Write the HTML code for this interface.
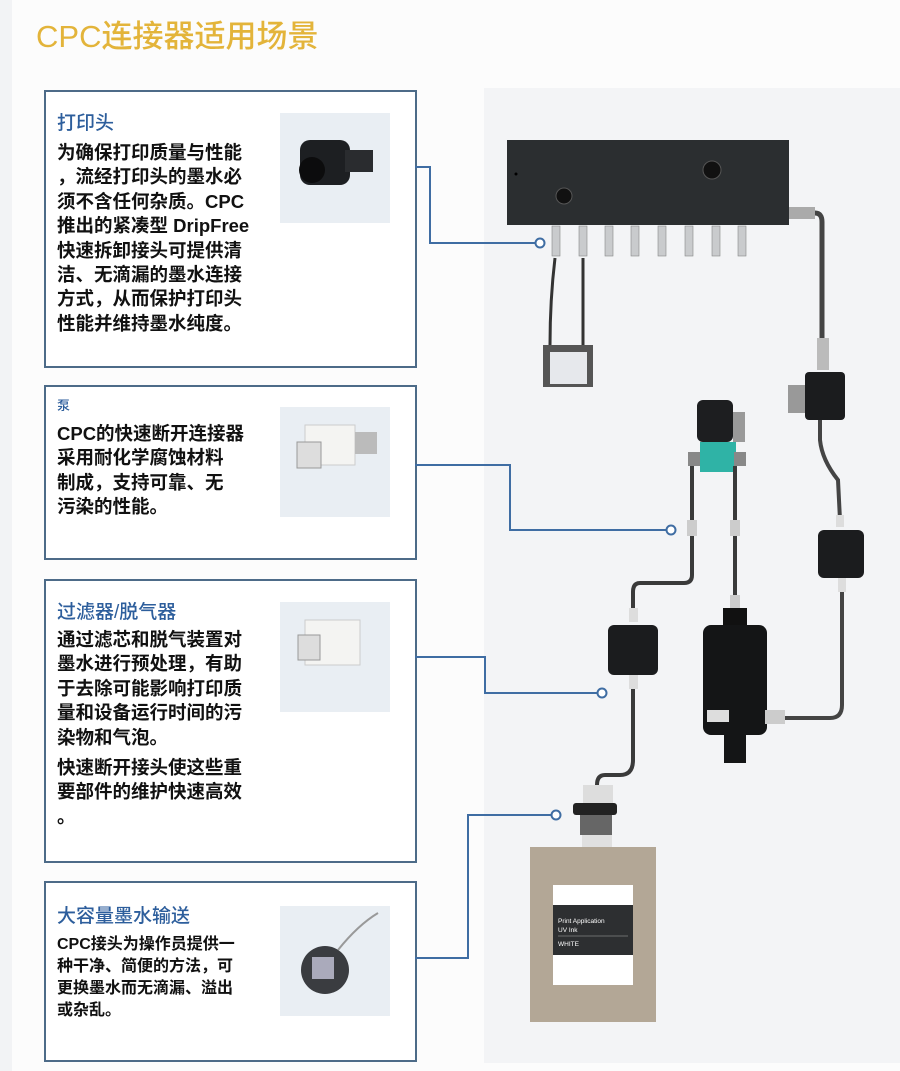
<!DOCTYPE html>
<html><head><meta charset="utf-8">
<style>
html,body{margin:0;padding:0;}
body{width:900px;height:1071px;position:relative;background:#fcfcfc;overflow:hidden;font-family:"Liberation Sans","Noto Sans CJK SC",sans-serif;}
.edge{position:absolute;left:0;top:0;width:12px;height:1071px;background:#f2f3f5;}
.title{position:absolute;left:36px;top:11px;font-size:31px;color:#e3b43a;font-weight:500;}
.panel{position:absolute;left:484px;top:88px;width:416px;height:975px;background:#f3f4f6;}
.box{position:absolute;left:44px;width:369px;border:2px solid #4d6b88;background:#fff;}
.h{position:absolute;left:11px;color:#2d5e9c;font-size:19px;font-weight:500;}
.t{position:absolute;left:11px;color:#111;font-size:18.5px;line-height:24.4px;font-weight:bold;white-space:nowrap;}
.th{position:absolute;left:234px;width:110px;height:110px;background:#e9eef3;}
svg{position:absolute;left:0;top:0;}
</style></head><body>
<div class="edge"></div>
<div class="title">CPC连接器适用场景</div>
<div class="panel"></div>

<div class="box" style="top:90px;height:274px;">
  <div class="h" style="top:16px;">打印头</div>
  <div class="t" style="top:49px;">为确保打印质量与性能<br>，流经打印头的墨水必<br>须不含任何杂质。CPC<br>推出的紧凑型 DripFree<br>快速拆卸接头可提供清<br>洁、无滴漏的墨水连接<br>方式，从而保护打印头<br>性能并维持墨水纯度。</div>
  <div class="th" style="top:21px;"></div>
</div>
<div class="box" style="top:385px;height:171px;">
  <div class="h" style="top:8px;font-size:13px;">泵</div>
  <div class="t" style="top:35px;">CPC的快速断开连接器<br>采用耐化学腐蚀材料<br>制成，支持可靠、无<br>污染的性能。</div>
  <div class="th" style="top:20px;"></div>
</div>
<div class="box" style="top:579px;height:280px;">
  <div class="h" style="top:16px;">过滤器/脱气器</div>
  <div class="t" style="top:47px;">通过滤芯和脱气装置对<br>墨水进行预处理，有助<br>于去除可能影响打印质<br>量和设备运行时间的污<br>染物和气泡。</div>
  <div class="t" style="top:175px;">快速断开接头使这些重<br>要部件的维护快速高效<br>。</div>
  <div class="th" style="top:21px;"></div>
</div>
<div class="box" style="top:881px;height:177px;">
  <div class="h" style="top:18px;">大容量墨水输送</div>
  <div class="t" style="top:51px;font-size:16px;line-height:22px;">CPC接头为操作员提供一<br>种干净、简便的方法，可<br>更换墨水而无滴漏、溢出<br>或杂乱。</div>
  <div class="th" style="top:23px;"></div>
</div>

<svg width="900" height="1071" viewBox="0 0 900 1071">
  <g>
    <rect x="300" y="140" width="50" height="45" rx="10" fill="#1d1f22"/>
    <rect x="345" y="150" width="28" height="22" fill="#2a2c2f"/>
    <circle cx="312" cy="170" r="13" fill="#0c0c0d"/>
    <path d="M305 425 h50 v40 h-50 z" fill="#f4f4f2" stroke="#ccc"/>
    <rect x="355" y="432" width="22" height="22" fill="#bbb"/>
    <rect x="297" y="442" width="24" height="26" fill="#ddd" stroke="#999"/>
    <path d="M305 620 h55 v45 h-55 z" fill="#f4f4f2" stroke="#ccc"/>
    <rect x="298" y="635" width="22" height="25" fill="#ddd" stroke="#999"/>
    <circle cx="325" cy="970" r="24" fill="#3a3c40"/>
    <rect x="312" y="957" width="22" height="22" fill="#aab"/>
    <path d="M338 950 q20 -25 40 -37" stroke="#999" fill="none" stroke-width="2"/>
  </g>
  <g stroke="#3f6da3" stroke-width="2" fill="none">
    <polyline points="415,167 430,167 430,243 535,243"/>
    <circle cx="540" cy="243" r="4.5" fill="#fff"/>
    <polyline points="415,465 510,465 510,530 666,530"/>
    <circle cx="671" cy="530" r="4.5" fill="#fff"/>
    <polyline points="415,657 485,657 485,693 597,693"/>
    <circle cx="602" cy="693" r="4.5" fill="#fff"/>
    <polyline points="415,958 468,958 468,815 551,815"/>
    <circle cx="556" cy="815" r="4.5" fill="#fff"/>
  </g>
  <rect x="507" y="140" width="282" height="85" fill="#2b2e30"/>
  <circle cx="564" cy="196" r="8" fill="#111" stroke="#555"/>
  <circle cx="712" cy="170" r="9" fill="#111" stroke="#555"/>
  <circle cx="516" cy="174" r="1.5" fill="#000"/>
  <g fill="#c9cbcd" stroke="#888" stroke-width="0.6">
    <rect x="552" y="226" width="8" height="30"/><rect x="579" y="226" width="8" height="30"/>
    <rect x="605" y="226" width="8" height="30"/><rect x="631" y="226" width="8" height="30"/>
    <rect x="658" y="226" width="8" height="30"/><rect x="685" y="226" width="8" height="30"/>
    <rect x="712" y="226" width="8" height="30"/><rect x="738" y="226" width="8" height="30"/>
  </g>
  <g stroke="#333" stroke-width="3" fill="none">
    <path d="M555 258 Q550 300 550 345"/>
    <path d="M583 258 L583 345"/>
  </g>
  <rect x="543" y="345" width="50" height="42" fill="#555"/>
  <rect x="550" y="352" width="37" height="32" fill="#e6e8ec"/>
  <rect x="789" y="207" width="26" height="12" fill="#aaa"/>
  <path d="M815 213 Q822 213 822 222 L822 340" stroke="#444" stroke-width="5" fill="none"/>
  <rect x="817" y="338" width="12" height="32" fill="#bbb"/>
  <rect x="788" y="385" width="20" height="28" fill="#999"/>
  <rect x="805" y="372" width="40" height="48" rx="4" fill="#1b1c1e"/>
  <path d="M820 420 L820 440 Q822 460 838 480 L840 520" stroke="#444" stroke-width="4" fill="none"/>
  <rect x="836" y="515" width="8" height="12" fill="#ddd"/>
  <rect x="818" y="530" width="46" height="48" rx="6" fill="#1b1c1e"/>
  <rect x="838" y="578" width="8" height="14" fill="#ddd"/>
  <path d="M842 592 L842 705 Q842 718 830 718 L780 718" stroke="#444" stroke-width="4" fill="none"/>
  <rect x="697" y="400" width="36" height="42" rx="6" fill="#1d1e20"/>
  <rect x="733" y="412" width="12" height="30" fill="#999"/>
  <rect x="700" y="442" width="36" height="30" fill="#2fb3a6"/>
  <rect x="688" y="452" width="12" height="14" fill="#888"/>
  <rect x="734" y="452" width="12" height="14" fill="#888"/>
  <g stroke="#3a3a3a" stroke-width="4" fill="none">
    <path d="M692 466 L692 575 Q692 583 684 583 L640 583 Q633 583 633 592 L633 620"/>
    <path d="M735 466 L735 600"/>
    <path d="M633 680 L633 760 Q633 775 620 775 L605 775 Q597 775 597 785"/>
  </g>
  <rect x="687" y="520" width="10" height="16" fill="#ccc"/>
  <rect x="730" y="520" width="10" height="16" fill="#ccc"/>
  <rect x="629" y="608" width="9" height="14" fill="#ddd"/>
  <rect x="608" y="625" width="50" height="50" rx="6" fill="#1b1c1e"/>
  <rect x="629" y="675" width="9" height="14" fill="#ddd"/>
  <rect x="730" y="595" width="10" height="14" fill="#ccc"/>
  <rect x="723" y="608" width="24" height="20" fill="#111"/>
  <rect x="703" y="625" width="64" height="110" rx="8" fill="#141516"/>
  <rect x="707" y="710" width="22" height="12" fill="#ddd"/>
  <rect x="765" y="710" width="20" height="14" fill="#ccc"/>
  <rect x="724" y="735" width="22" height="28" fill="#141516"/>
  <rect x="583" y="785" width="30" height="18" fill="#ddd"/>
  <rect x="573" y="803" width="44" height="12" rx="3" fill="#222"/>
  <rect x="580" y="815" width="32" height="20" fill="#666"/>
  <rect x="582" y="835" width="30" height="12" fill="#e0e0e0"/>
  <rect x="530" y="847" width="126" height="175" fill="#b3a796"/>
  <rect x="553" y="885" width="80" height="100" fill="#fff"/>
  <rect x="553" y="905" width="80" height="50" fill="#2d2f31"/>
  <text x="558" y="923" font-size="6.5" fill="#fff" font-family="Liberation Sans">Print Application</text>
  <text x="558" y="932" font-size="6.5" fill="#fff" font-family="Liberation Sans">UV Ink</text>
  <line x1="558" y1="936" x2="628" y2="936" stroke="#aaa" stroke-width="0.5"/>
  <text x="558" y="946" font-size="6.5" fill="#fff" font-family="Liberation Sans">WHITE</text>
</svg>
</body></html>
